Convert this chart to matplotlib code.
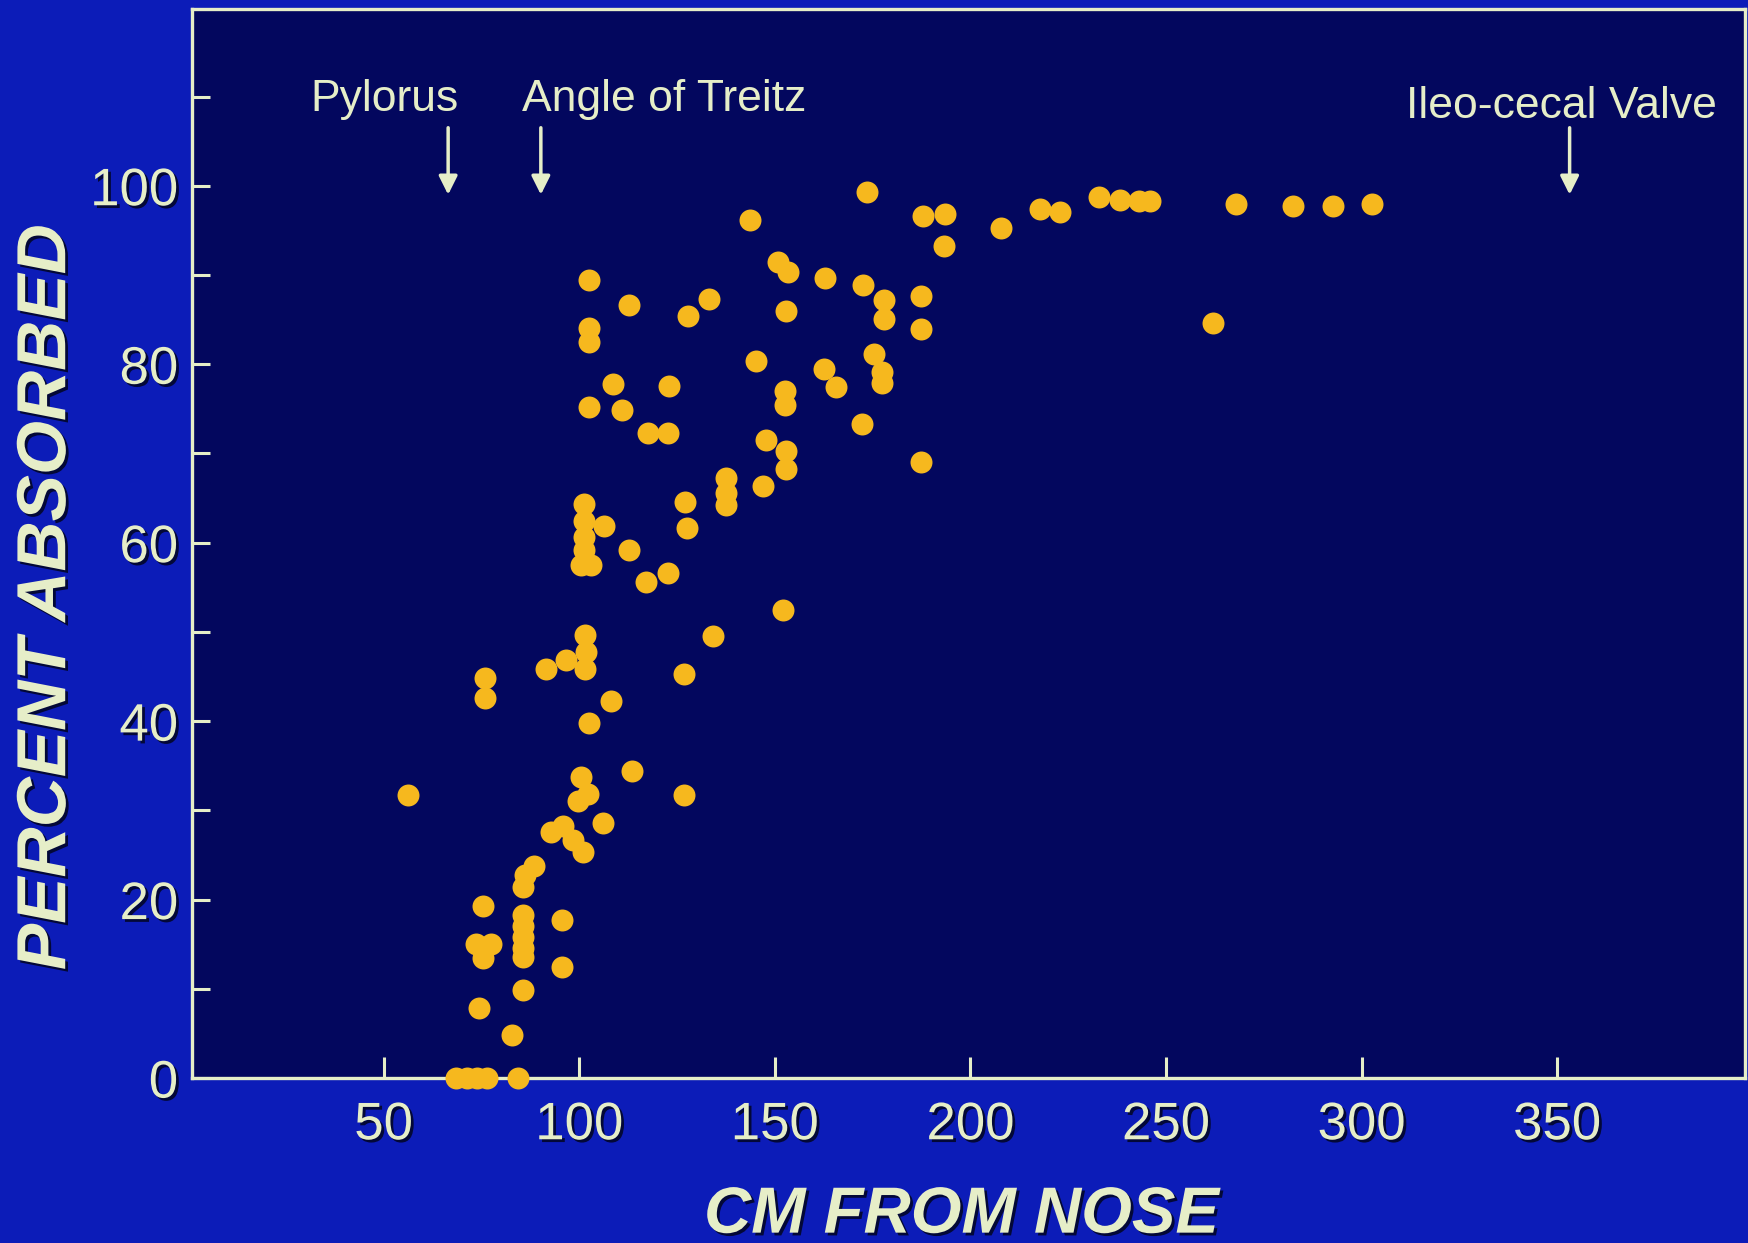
import matplotlib
matplotlib.use("Agg")
import matplotlib.pyplot as plt
import matplotlib.patheffects as pe

# distance from nose (cm) and percent absorbed
cm_from_nose = [
    56.3,
    68.5, 71.3, 74.0, 76.5, 84.3,
    82.9, 74.5, 85.6, 95.6,
    73.5, 77.5, 75.5, 75.3,
    85.6, 85.6, 85.6, 85.6, 85.6,
    95.6, 85.6, 86.2, 88.5,
    92.7, 95.9, 98.5, 101.0, 106.2,
    99.8, 102.3, 100.5, 113.6, 126.7,
    102.6, 108.1, 76.0, 76.0,
    91.6, 96.7, 101.6, 101.8, 101.5,
    126.7, 134.3, 152.0,
    100.5, 103.0, 101.3, 101.3, 101.3, 101.3,
    106.4, 112.8, 117.0, 122.6,
    127.0, 127.6, 137.5, 137.5, 137.5,
    147.1, 147.7, 152.8, 152.8,
    117.5, 122.8, 102.4, 110.9, 108.6, 123.0,
    145.2, 152.5, 152.5, 162.5, 165.6, 172.2,
    175.4, 177.5, 177.3, 187.3,
    102.6, 102.6, 102.6, 112.8, 127.7, 133.2, 152.8,
    150.7, 153.3, 143.7, 162.8, 172.6,
    177.9, 178.0, 187.3, 187.3,
    173.5, 187.9, 193.6, 193.2, 207.9,
    217.7, 223.0, 232.8, 238.2, 243.0, 246.0,
    262.0, 267.8, 282.6, 292.8, 302.8,
]
percent_absorbed = [
    31.7,
    0.0, 0.0, 0.0, 0.0, 0.0,
    4.8, 7.9, 9.9, 12.4,
    15.0, 15.0, 13.5, 19.3,
    18.3, 17.0, 15.8, 14.6, 13.6,
    17.7, 21.4, 22.8, 23.8,
    27.6, 28.2, 26.7, 25.3, 28.6,
    31.0, 31.8, 33.7, 34.4, 31.7,
    39.8, 42.3, 44.8, 42.6,
    45.8, 46.9, 49.7, 47.8, 45.8,
    45.3, 49.5, 52.4,
    57.5, 57.5, 59.2, 60.6, 62.4, 64.3,
    61.9, 59.2, 55.6, 56.6,
    64.6, 61.7, 67.2, 65.6, 64.2,
    66.4, 71.5, 70.3, 68.3,
    72.3, 72.3, 75.2, 74.9, 77.8, 77.6,
    80.4, 77.0, 75.4, 79.5, 77.4, 73.3,
    81.2, 79.1, 77.9, 69.0,
    84.1, 82.5, 89.4, 86.6, 85.4, 87.3, 86.0,
    91.4, 90.3, 96.2, 89.7, 88.9,
    87.2, 85.1, 87.7, 84.0,
    99.3, 96.6, 96.8, 93.3, 95.3,
    97.4, 97.1, 98.7, 98.4, 98.3, 98.3,
    84.6, 97.9, 97.7, 97.7, 97.9,
]

x_ticks = [50, 100, 150, 200, 250, 300, 350]
y_ticks = [0, 10, 20, 30, 40, 50, 60, 70, 80, 90, 100, 110]
y_tick_labels = ["0", "", "20", "", "40", "", "60", "", "80", "", "100", ""]

# landmarks: (label, text x, text y, arrow x)
landmark_names = ["Pylorus", "Angle of Treitz", "Ileo-cecal Valve"]
landmark_text_x = [50.3, 121.8, 351.2]
landmark_text_y = [109.7, 109.7, 108.9]
landmark_arrow_x = [66.5, 90.2, 353.2]

OUTER_BG = "#0c1cb8"
INNER_BG = "#03075e"
CREAM = "#e6eec8"
DOT = "#f6b81e"

FONT = "Liberation Sans"
shadow = [pe.SimplePatchShadow(offset=(2, -2), shadow_rgbFace="black", alpha=0.7), pe.Normal()]

fig = plt.figure(figsize=(17.48, 12.43), dpi=100)
fig.patch.set_facecolor(OUTER_BG)
ax = fig.add_axes([0.1098, 0.1327, 0.8884, 0.860])
ax.set_facecolor(INNER_BG)

ax.scatter(cm_from_nose, percent_absorbed, s=250, c=DOT, linewidths=0,
           zorder=3, clip_on=False)

ax.set_xlim(1, 398)
ax.set_ylim(0, 119.8)

for side in ["left", "bottom", "top", "right"]:
    ax.spines[side].set_color(CREAM)
    ax.spines[side].set_linewidth(2.4)

ax.set_xticks(x_ticks)
ax.set_xticklabels([str(t) for t in x_ticks])
ax.set_yticks(y_ticks)
ax.set_yticklabels(y_tick_labels)
ax.tick_params(axis="x", direction="in", length=15, width=2.2, color=CREAM,
               labelcolor=CREAM, labelsize=38, pad=16)
ax.tick_params(axis="y", direction="in", length=13, width=2.2, color=CREAM,
               labelcolor=CREAM, labelsize=38, pad=10)
for lbl in ax.get_xticklabels() + ax.get_yticklabels():
    lbl.set_fontfamily(FONT)
    lbl.set_path_effects(shadow)

for name, tx, ty, axx in zip(landmark_names, landmark_text_x,
                              landmark_text_y, landmark_arrow_x):
    ax.text(tx, ty, name, ha="center", va="center", color=CREAM,
            fontsize=32, family=FONT)
    ax.annotate("", xy=(axx, 99.0), xytext=(axx, 106.5),
                arrowprops=dict(arrowstyle="-|>", color=CREAM, lw=2.5,
                                mutation_scale=28, shrinkA=0, shrinkB=0))

fig.text(0.027, 0.52, "PERCENT ABSORBED", rotation=90, ha="center", va="center",
         color=CREAM, fontsize=50, fontweight="bold", fontstyle="italic",
         family=FONT, path_effects=shadow)
fig.text(0.55, 0.022, "CM FROM NOSE", ha="center", va="center",
         color=CREAM, fontsize=47, fontweight="bold", fontstyle="italic",
         family=FONT, path_effects=shadow)

fig.savefig("out.png", dpi=100, facecolor=fig.get_facecolor())
